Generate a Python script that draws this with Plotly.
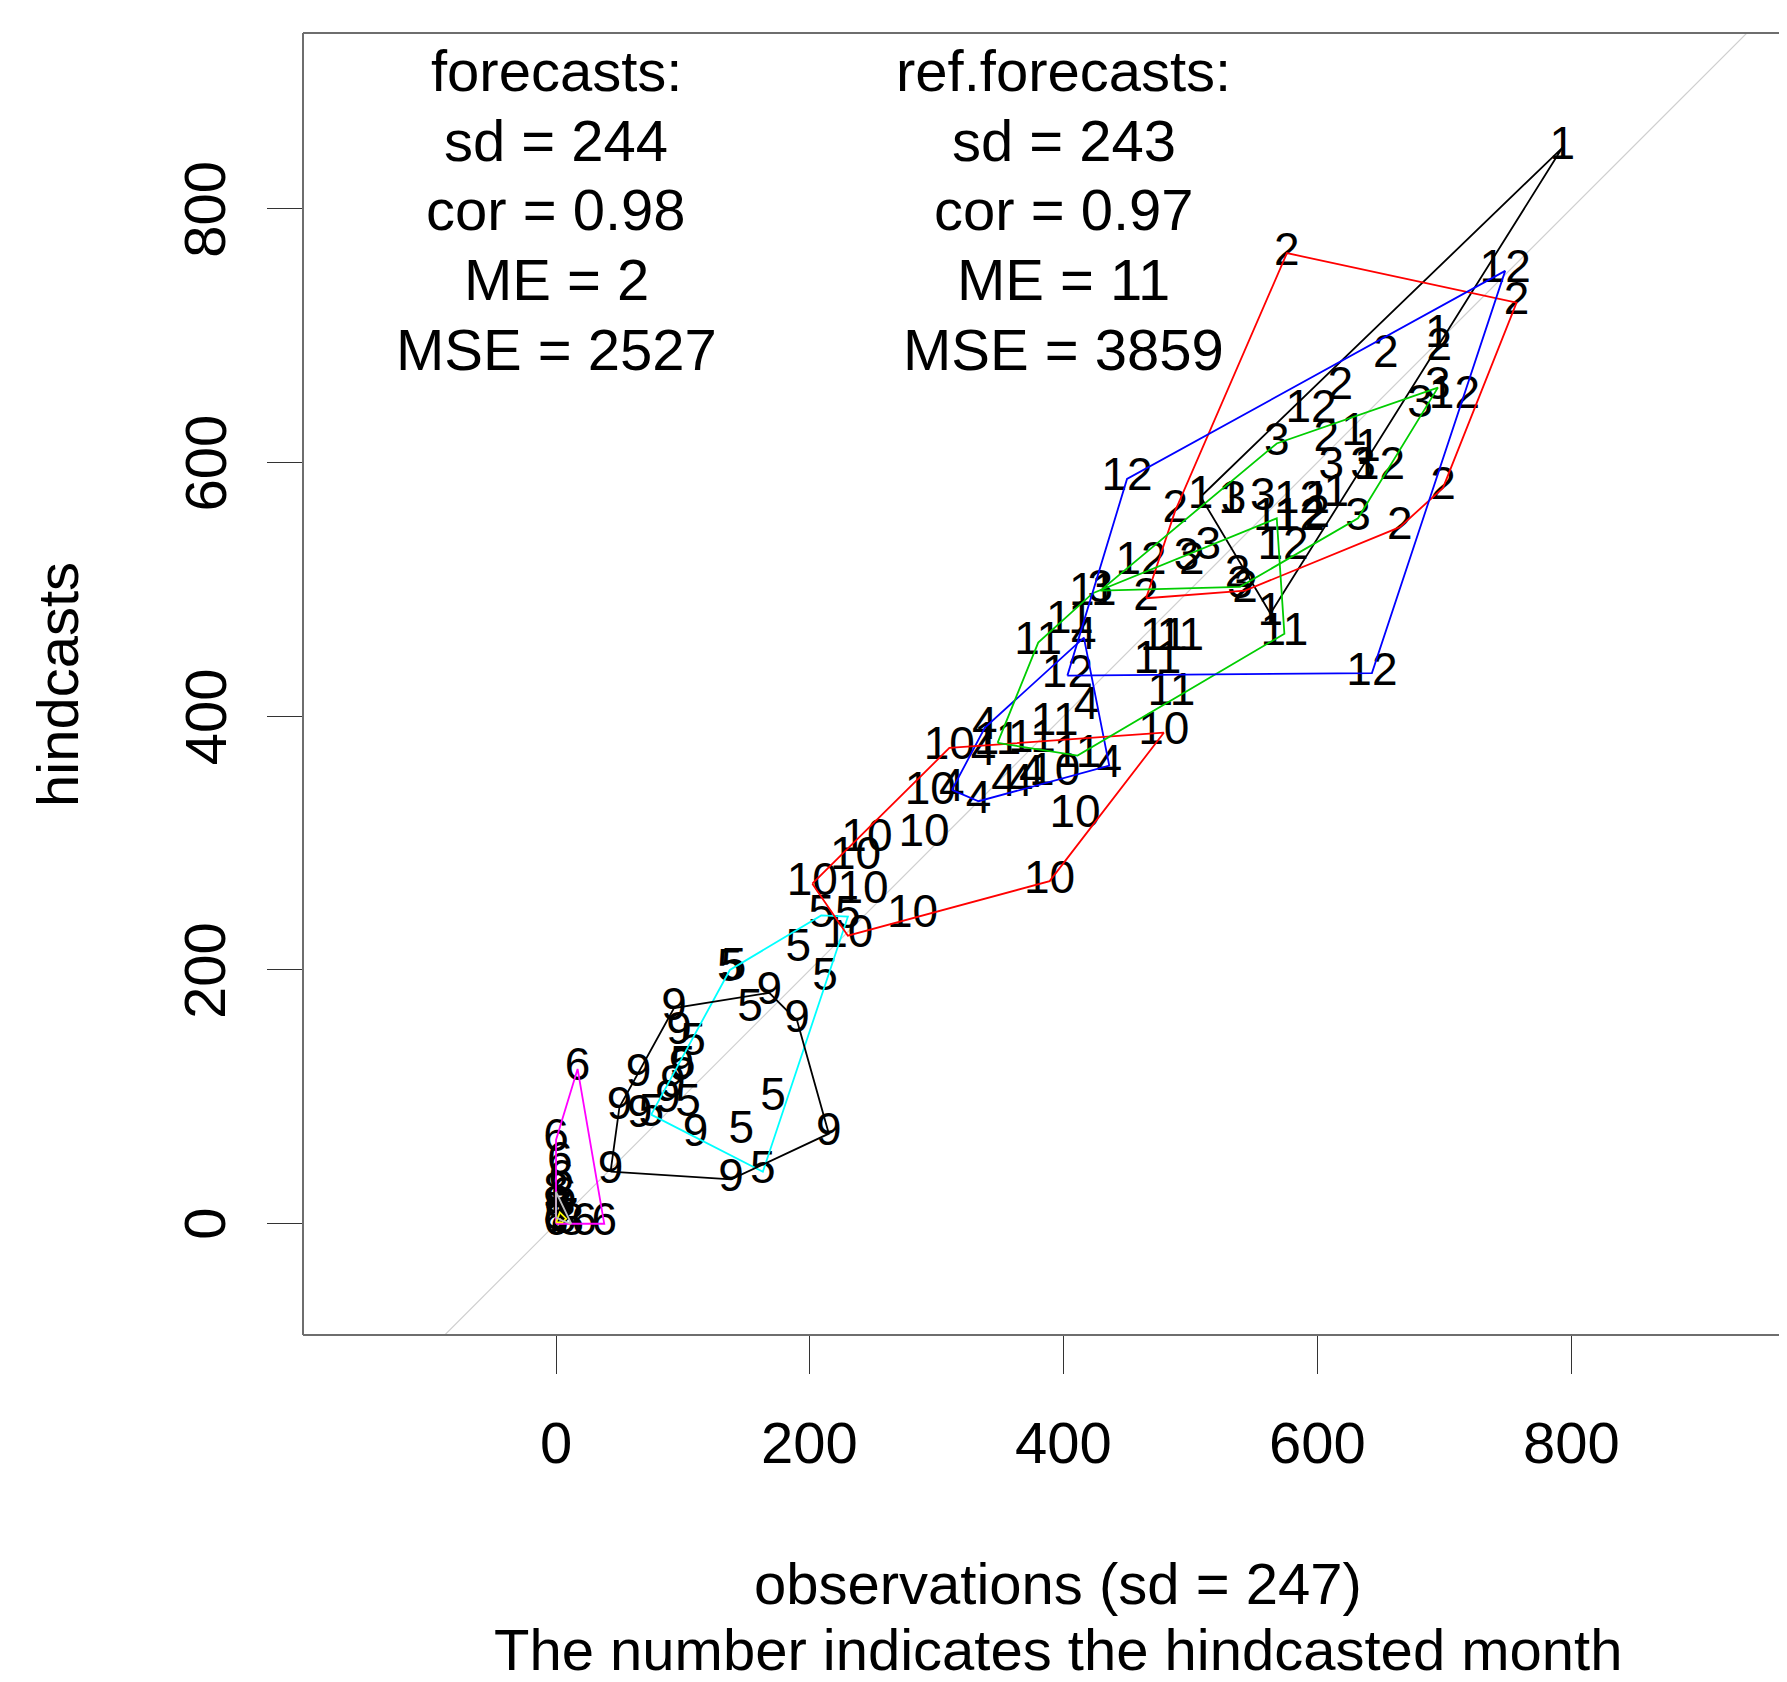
import plotly.graph_objects as go

# ---------------- data: (observation, hindcast) per hindcasted month ----------------
months = [1, 2, 3, 4, 5, 6, 7, 8, 9, 10, 11, 12]

m1_x = [793, 563, 508, 695, 629, 640, 532, 600, 615]
m1_y = [848, 481, 573, 700, 623, 610, 569, 569, 575]

m2_x = [576, 757, 699, 665, 543, 465, 488, 654, 618, 696, 607, 501, 537, 600]
m2_y = [765, 726, 580, 549, 499, 493, 562, 684, 659, 690, 618, 521, 511, 558]

m3_x = [695, 632, 429, 568, 557, 534, 636, 611, 681, 539, 514, 497]
m3_y = [659, 556, 499, 615, 572, 569, 596, 596, 645, 502, 533, 524]

m4_x = [312, 333, 436, 416, 338, 418, 375, 353, 337, 366]
m4_y = [342, 333, 361, 462, 391, 407, 353, 346, 371, 346]

m5_x = [140, 209, 230, 163, 75, 191, 212, 153, 171, 146, 104, 100, 108, 137]
m5_y = [201, 243, 242, 41, 86, 216, 193, 169, 99, 73, 94, 124, 142, 200]

m6_x = [17, 0, 0, 38, 3, 4, 22, 6]
m6_y = [122, 66, 0, 0, 48, 34, 0, 21]

m7_x = [1, 8, 3, 0, 5]
m7_y = [3, 4, 9, 1, 1]

m8_x = [0, 1, 0, 6, 12]
m8_y = [25, 14, 5, 2, 0]

m9_x = [43, 138, 215, 190, 168, 93, 65, 50, 97, 99, 92, 88, 66, 110]
m9_y = [41, 35, 71, 160, 182, 170, 118, 92, 151, 122, 109, 97, 85, 70]

m10_x = [202, 230, 389, 479, 310, 245, 236, 242, 290, 281, 409, 295, 393]
m10_y = [268, 227, 270, 387, 375, 303, 289, 262, 307, 243, 322, 340, 355]

m11_x = [348, 411, 574, 568, 423, 380, 479, 474, 485, 405, 375, 393, 492]
m11_y = [379, 369, 465, 556, 497, 458, 461, 443, 418, 475, 381, 394, 461]

m12_x = [748, 450, 403, 643, 595, 649, 708, 573, 586, 461, 586]
m12_y = [751, 587, 432, 434, 641, 596, 652, 533, 556, 521, 569]

obs_x = [m1_x, m2_x, m3_x, m4_x, m5_x, m6_x, m7_x, m8_x, m9_x, m10_x, m11_x, m12_x]
hind_y = [m1_y, m2_y, m3_y, m4_y, m5_y, m6_y, m7_y, m8_y, m9_y, m10_y, m11_y, m12_y]

# R default (classic) palette, recycled by month number
palette = ["#000000", "#FF0000", "#00CD00", "#0000FF",
           "#00FFFF", "#FF00FF", "#FFFF00", "#BEBEBE"]

x_ticks = [0, 200, 400, 600, 800]
y_ticks = [0, 200, 400, 600, 800]

stats_fc = ["forecasts:", "sd = 244", "cor = 0.98", "ME = 2", "MSE = 2527"]
stats_ref = ["ref.forecasts:", "sd = 243", "cor = 0.97", "ME = 11", "MSE = 3859"]
stats_y = [909, 854, 799, 744, 689]
x_title1 = "observations (sd = 247)"
x_title2 = "The number indicates the hindcasted month"
y_title = "hindcasts"

X_RANGE = [-199.4, 963.8]
Y_RANGE = [-87.7, 938.5]

FONT = "Liberation Sans, Arial, Helvetica, sans-serif"


def convex_hull(xs, ys):
    pts = sorted(set(zip(xs, ys)))
    if len(pts) < 3:
        return pts

    def cross(o, a, b):
        return (a[0] - o[0]) * (b[1] - o[1]) - (a[1] - o[1]) * (b[0] - o[0])

    lower = []
    for p in pts:
        while len(lower) >= 2 and cross(lower[-2], lower[-1], p) <= 0:
            lower.pop()
        lower.append(p)
    upper = []
    for p in reversed(pts):
        while len(upper) >= 2 and cross(upper[-2], upper[-1], p) <= 0:
            upper.pop()
        upper.append(p)
    return lower[:-1] + upper[:-1]


fig = go.Figure()

# 1:1 line
fig.add_trace(go.Scatter(x=[Y_RANGE[0] - 50, Y_RANGE[1] + 50],
                         y=[Y_RANGE[0] - 50, Y_RANGE[1] + 50],
                         mode="lines", line=dict(color="#CFCFCF", width=1.2),
                         hoverinfo="skip", showlegend=False))

# month labels
for m, xs, ys in zip(months, obs_x, hind_y):
    fig.add_trace(go.Scatter(x=xs, y=ys, mode="text",
                             text=[str(m)] * len(xs),
                             textposition="middle center",
                             textfont=dict(family=FONT, size=46, color="black"),
                             showlegend=False, hoverinfo="skip"))

# convex hulls per month
for m, xs, ys in zip(months, obs_x, hind_y):
    h = convex_hull(xs, ys)
    if len(h) < 2:
        continue
    hx = [p[0] for p in h] + [h[0][0]]
    hy = [p[1] for p in h] + [h[0][1]]
    fig.add_trace(go.Scatter(x=hx, y=hy, mode="lines",
                             line=dict(color=palette[(m - 1) % 8], width=1.8),
                             showlegend=False, hoverinfo="skip"))

annotations = []
for t, yv in zip(stats_fc, stats_y):
    annotations.append(dict(x=0, y=yv, xref="x", yref="y", text=t, showarrow=False,
                            xanchor="center", yanchor="middle",
                            font=dict(family=FONT, size=58, color="black")))
for t, yv in zip(stats_ref, stats_y):
    annotations.append(dict(x=400, y=yv, xref="x", yref="y", text=t, showarrow=False,
                            xanchor="center", yanchor="middle",
                            font=dict(family=FONT, size=58, color="black")))

# tick labels (R style)
for v in x_ticks:
    annotations.append(dict(x=v, y=-0.0822, xref="x", yref="paper", text=str(v),
                            showarrow=False, xanchor="center", yanchor="middle",
                            font=dict(family=FONT, size=58, color="black")))
for v in y_ticks:
    annotations.append(dict(x=-0.0664, y=v, xref="paper", yref="y", text=str(v),
                            showarrow=False, xanchor="center", yanchor="middle",
                            textangle=-90,
                            font=dict(family=FONT, size=58, color="black")))

annotations.append(dict(x=0.5116, y=-0.1912, xref="paper", yref="paper", text=x_title1,
                        showarrow=False, xanchor="center", yanchor="middle",
                        font=dict(family=FONT, size=58, color="black")))
annotations.append(dict(x=0.5116, y=-0.2412, xref="paper", yref="paper", text=x_title2,
                        showarrow=False, xanchor="center", yanchor="middle",
                        font=dict(family=FONT, size=58, color="black")))
annotations.append(dict(x=-0.1667, y=0.5, xref="paper", yref="paper", text=y_title,
                        showarrow=False, xanchor="center", yanchor="middle",
                        textangle=-90,
                        font=dict(family=FONT, size=58, color="black")))

box_col = "#6E6E6E"
shapes = [
    dict(type="line", xref="paper", yref="paper", x0=0, x1=0, y0=0, y1=1,
         line=dict(color=box_col, width=2)),
    dict(type="line", xref="paper", yref="paper", x0=0, x1=1.0, y0=1, y1=1,
         line=dict(color=box_col, width=2)),
    dict(type="line", xref="paper", yref="paper", x0=0, x1=1.0, y0=0, y1=0,
         line=dict(color=box_col, width=2)),
]

# page body has an 8px margin: figure is placed at (8, 8) in the window
fig.update_layout(
    width=1771, height=1666,
    margin=dict(l=295, r=0, t=25, b=339, pad=0),
    paper_bgcolor="white", plot_bgcolor="white",
    showlegend=False,
    annotations=annotations,
    shapes=shapes,
    xaxis=dict(range=X_RANGE, showgrid=False, zeroline=False, showline=False,
               tickvals=x_ticks, ticks="outside", ticklen=38, tickwidth=1.2,
               tickcolor="#333333", showticklabels=False, fixedrange=True),
    yaxis=dict(range=Y_RANGE, showgrid=False, zeroline=False, showline=False,
               tickvals=y_ticks, ticks="outside", ticklen=35, tickwidth=1.2,
               tickcolor="#333333", showticklabels=False, fixedrange=True),
)

fig.write_html("out.html")
